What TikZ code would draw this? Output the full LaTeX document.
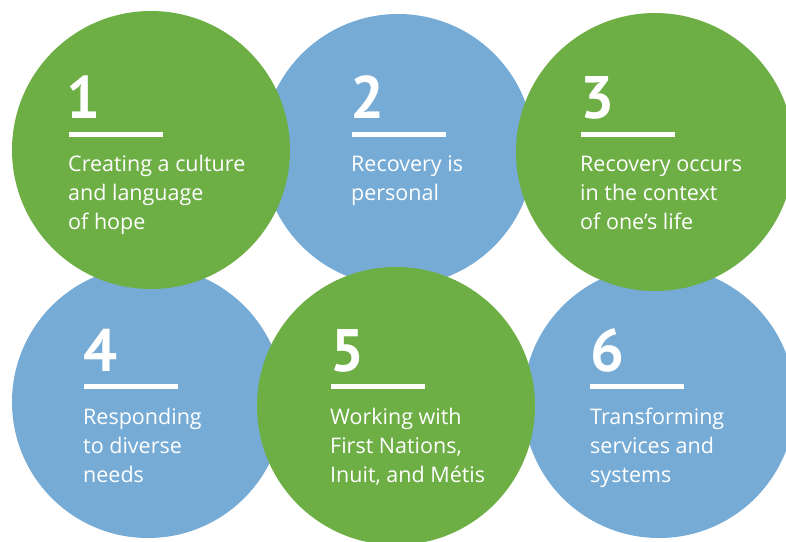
\documentclass[tikz,border=0pt]{standalone}
\usepackage{fontspec}
\setmainfont{PT Sans}
\newfontfamily\bodyfont{Open Sans}
\definecolor{cgreen}{RGB}{109,174,69}
\definecolor{cblue}{RGB}{118,171,213}
\begin{document}
\begin{tikzpicture}[x=1pt,y=-1pt,
  greendisc/.style={circle,fill=cgreen,minimum size=278pt,inner sep=0pt,outer sep=0pt},
  bluedisc/.style={circle,fill=cblue,minimum size=272pt,inner sep=0pt,outer sep=0pt},
  numlabel/.style={anchor=base west,inner sep=0pt,text=white,font=\fontsize{60}{60}\selectfont\bfseries},
  bodytext/.style={anchor=base west,inner sep=0pt,text=white,font=\bodyfont\fontsize{21.5}{29.2}\selectfont},
  barline/.style={anchor=north west,fill=white,inner sep=0pt,minimum width=94pt,minimum height=5pt}]
\useasboundingbox (0,0) rectangle (786,541);
\clip (0,0) rectangle (786,541);
% blue circles (behind)
\node[bluedisc] (c2) at (398,150) {};
\node[bluedisc] (c4) at (148,402) {};
\node[bluedisc] (c6) at (659,402) {};
% green circles (in front)
\node[greendisc] (c1) at (151,150) {};
\node[greendisc] (c3) at (655,152) {};
\node[greendisc] (c5) at (396,406) {};
% circle 1
\node[numlabel] (n1) at (66,118) {1};
\node[barline] (b1) at (69,132) {};
\node[bodytext] (t1) at (68,171) {\begin{tabular}[t]{@{}l@{}}Creating a culture\\and language\\of hope\end{tabular}};
% circle 2
\node[numlabel] (n2) at (350,118) {2};
\node[barline] (b2) at (352,132) {};
\node[bodytext] (t2) at (351,171) {\begin{tabular}[t]{@{}l@{}}Recovery is\\personal\end{tabular}};
% circle 3
\node[numlabel] (n3) at (580,118) {3};
\node[barline] (b3) at (581,132) {};
\node[bodytext] (t3) at (580,171) {\begin{tabular}[t]{@{}l@{}}Recovery occurs\\in the context\\of one’s life\end{tabular}};
% circle 4
\node[numlabel] (n4) at (83,371) {4};
\node[barline] (b4) at (84,384) {};
\node[bodytext] (t4) at (83,424) {\begin{tabular}[t]{@{}l@{}}Responding\\to diverse\\needs\end{tabular}};
% circle 5
\node[numlabel] (n5) at (330,371) {5};
\node[barline] (b5) at (331,384) {};
\node[bodytext] (t5) at (330,424) {\begin{tabular}[t]{@{}l@{}}Working with\\First Nations,\\Inuit, and Métis\end{tabular}};
% circle 6
\node[numlabel] (n6) at (590,371) {6};
\node[barline] (b6) at (590,384) {};
\node[bodytext] (t6) at (590,424) {\begin{tabular}[t]{@{}l@{}}Transforming\\services and\\systems\end{tabular}};
\end{tikzpicture}
\end{document}
